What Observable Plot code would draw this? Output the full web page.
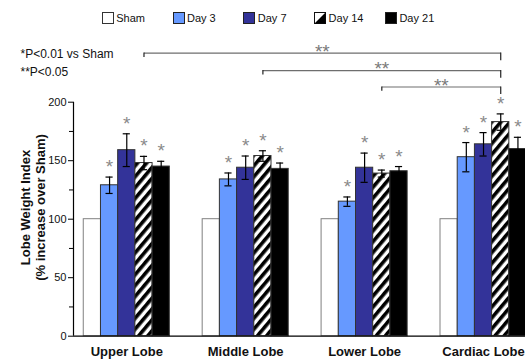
<!DOCTYPE html>
<html>
<head>
<meta charset="utf-8">
<script src="https://cdn.jsdelivr.net/npm/d3@7"></script>
<script src="https://cdn.jsdelivr.net/npm/@observablehq/plot@0.6"></script>
<style>
html,body{margin:0;padding:0;background:#fff;overflow:hidden;width:525px;height:360px}
#legend{position:relative;height:30px;width:525px;font-family:"Liberation Sans",Arial,sans-serif;font-size:11px;color:#111}
#legend .item{position:absolute;top:11.8px;height:12px;display:flex;align-items:center;white-space:nowrap}
#legend .item svg{display:block;margin-right:2.5px}
#chart svg{display:block;max-width:none !important}
</style>
</head>
<body>
<div id="legend"></div>
<div id="chart"></div>
<script>
// ---- data ----
const lobes = ["Upper Lobe", "Middle Lobe", "Lower Lobe", "Cardiac Lobe"];
const series = ["Sham", "Day 3", "Day 7", "Day 14", "Day 21"];
const sham  = [100, 100, 100, 100];
const day3  = [129, 134, 115, 153];
const day7  = [159, 144, 144, 164];
const day14 = [148, 154, 139, 183];
const day21 = [145, 143, 141, 160];
const errDay3  = [7, 5.5, 4, 12.5];
const errDay7  = [14, 10, 12.5, 10];
const errDay14 = [5.7, 4.5, 3, 7];
const errDay21 = [4.5, 5, 4, 10];
const yTicks = [0, 50, 100, 150, 200];
const yMinorTicks = [25, 75, 125, 175];
const sigNotes = ["*P<0.01 vs Sham", "**P<0.05"];
const yLabel = "Lobe Weight Index\n(% increase over Sham)";
const bracketFrom = ["Upper Lobe", "Middle Lobe", "Lower Lobe"];
const bracketTo = "Cardiac Lobe";
const bracketLevel = [242, 227, 213];
const bracketMark = "**";
const sigMark = "*";

// ---- styles ----
const colors = ["#ffffff", "#6699ff", "#333399", "url(#hatch)", "#000000"];
const font = "Liberation Sans, Arial, sans-serif";
const bw = 0.1447;          // bar width in group units
const cap = 0.03;           // half error-cap width in group units
const xDomain = [-0.448, 3.353];

// ---- table ----
const values = [sham, day3, day7, day14, day21];
const errors = [null, errDay3, errDay7, errDay14, errDay21];
const rows = [];
lobes.forEach((lobe, i) => series.forEach((s, j) => rows.push({
  lobe, li: i, series: s, sj: j, value: values[j][i], err: errors[j] ? errors[j][i] : 0
})));
const left = d => d.li + (d.sj - 2.5) * bw;
const right = d => d.li + (d.sj - 1.5) * bw;
const center = d => d.li + (d.sj - 2) * bw;
const shamRows = rows.filter(d => d.sj === 0);
const dayRows = rows.filter(d => d.sj > 0);
const d14 = series.indexOf("Day 14");
const brackets = bracketFrom.map((f, k) => ({
  x1: lobes.indexOf(f) + (d14 - 2) * bw,
  x2: lobes.indexOf(bracketTo) + (d14 - 2) * bw,
  y: bracketLevel[k]
}));

// ---- legend ----
const legend = d3.select("#legend");
series.forEach((s, j) => {
  const it = legend.append("div").attr("class", "item").style("left", (101.7 + j * 70.8) + "px");
  const sw = it.append("svg").attr("width", 12).attr("height", 12);
  if (s === "Day 14") {
    sw.append("rect").attr("x", 0.5).attr("y", 0.5).attr("width", 11).attr("height", 11).attr("fill", "#fff").attr("stroke", "#111");
    sw.append("polygon").attr("points", "0.5,11.5 11.5,0.5 11.5,11.5").attr("fill", "#000");
  } else {
    sw.append("rect").attr("x", 0.5).attr("y", 0.5).attr("width", 11).attr("height", 11)
      .attr("fill", colors[j]).attr("stroke", j === 0 ? "#333" : "#222");
  }
  it.append("span").text(s);
});

// ---- chart ----
const chart = Plot.plot({
  width: 525,
  height: 330,
  marginLeft: 73,
  marginRight: 0,
  marginTop: 71.7,
  marginBottom: 24.3,
  style: {fontFamily: font, background: "#fff", color: "#111"},
  x: {type: "linear", domain: xDomain},
  y: {domain: [yTicks[0], yTicks[yTicks.length - 1]]},
  color: {domain: series, range: colors},
  marks: [
    Plot.rect(shamRows, {x1: left, x2: right, y1: () => 0, y2: "value", fill: "series", stroke: "#808080", strokeWidth: 1}),
    Plot.rect(dayRows, {x1: left, x2: right, y1: () => 0, y2: "value", fill: "series", stroke: "#333", strokeWidth: 1}),
    Plot.ruleX(dayRows, {x: center, y1: d => d.value - d.err, y2: d => d.value + d.err, stroke: "#000", strokeWidth: 1.2}),
    Plot.ruleY(dayRows, {y: d => d.value + d.err, x1: d => center(d) - cap, x2: d => center(d) + cap, stroke: "#000", strokeWidth: 1.2}),
    Plot.ruleY(dayRows, {y: d => d.value - d.err, x1: d => center(d) - cap, x2: d => center(d) + cap, stroke: "#000", strokeWidth: 1.2}),
    Plot.text(dayRows, {x: center, y: d => d.value + d.err, text: () => sigMark, lineAnchor: "bottom", dy: -4, fontSize: 19, fill: "#8a8a8a"}),
    Plot.ruleY([0], {stroke: "#000", strokeWidth: 1.2}),
    Plot.ruleX([xDomain[0]], {y1: yTicks[0], y2: yTicks[yTicks.length - 1], stroke: "#000", strokeWidth: 1.2}),
    Plot.axisY({ticks: yTicks, tickSize: 5, tickPadding: 2, fontSize: 11, label: null, stroke: "#000"}),
    Plot.axisY({ticks: yMinorTicks, tickSize: 4, tickFormat: () => "", label: null, stroke: "#000"}),
    Plot.axisX({ticks: lobes.map((_, i) => i), tickFormat: i => lobes[i], tickSize: 0, tickPadding: 11, fontSize: 13, fontWeight: "bold", label: null}),
    Plot.text([yLabel], {frameAnchor: "left", rotate: -90, dx: -41, dy: -11.7, text: d => d, textAnchor: "middle", lineAnchor: "middle", lineHeight: 1.15, fontSize: 13, fontWeight: "bold"}),
    Plot.text([sigNotes[0]], {frameAnchor: "top-left", dx: -53, dy: -47.7, text: d => d, textAnchor: "start", lineAnchor: "middle", fontSize: 12}),
    Plot.text([sigNotes[1]], {frameAnchor: "top-left", dx: -53, dy: -29.7, text: d => d, textAnchor: "start", lineAnchor: "middle", fontSize: 12}),
    Plot.link(brackets, {x1: "x1", x2: "x2", y1: "y", y2: "y", stroke: "#6e6e6e", strokeWidth: 1.2}),
    Plot.ruleX(brackets, {x: "x1", y1: "y", y2: d => d.y - 3.7, stroke: "#222", strokeWidth: 1.2}),
    Plot.ruleX(brackets, {x: "x2", y1: "y", y2: d => d.y - 6.5, stroke: "#222", strokeWidth: 1.2}),
    Plot.text(brackets, {x: d => (d.x1 + d.x2) / 2, y: "y", text: () => bracketMark, lineAnchor: "bottom", dy: 4.7, fontSize: 19, fill: "#7a7a7a"})
  ]
});
const svg = d3.select(chart);
const pat = svg.insert("defs", ":first-child").append("pattern")
  .attr("id", "hatch").attr("patternUnits", "userSpaceOnUse")
  .attr("width", 7).attr("height", 7).attr("patternTransform", "rotate(40)");
pat.append("rect").attr("width", 7).attr("height", 7).attr("fill", "#fff");
pat.append("rect").attr("width", 3.6).attr("height", 7).attr("fill", "#000");
document.getElementById("chart").appendChild(chart);
</script>
</body>
</html>
